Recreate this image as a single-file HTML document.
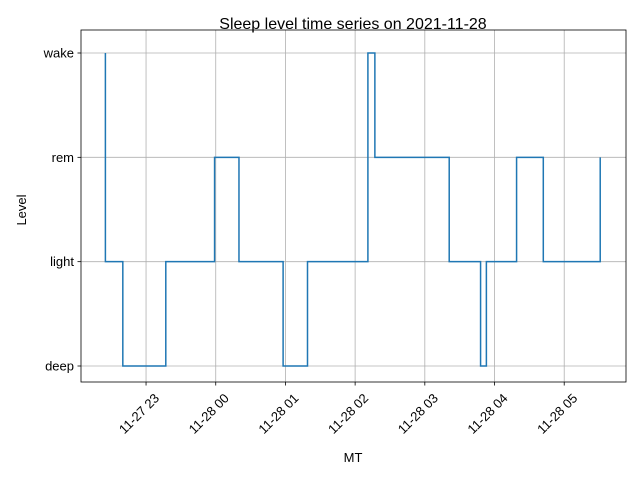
<!DOCTYPE html>
<html><head><meta charset="utf-8"><style>
body{margin:0;background:#fff;}
svg{font-family:"Liberation Sans","DejaVu Sans",sans-serif;}
</style></head><body>
<svg id="chart" width="640" height="480">
<rect width="640" height="480" fill="#fff"/>
<text x="353" y="29" font-size="16" text-anchor="middle">Sleep level time series on 2021-11-28</text>
<g id="grid"></g>
<g id="ticks"></g>
<path id="line" fill="none" stroke="#1f77b4" stroke-width="1.5"/>
<rect x="81" y="30" width="545" height="352" fill="none" stroke="#000" stroke-width="0.8"/>
<text x="353" y="462" font-size="13" text-anchor="middle">MT</text>
<text x="26" y="210" font-size="13" text-anchor="middle" transform="rotate(-90 26 210)">Level</text>
</svg>
<script>
// minutes since 2021-11-27 22:00
const times = [25, 25, 40, 77, 119, 140, 178, 199, 251, 257, 321, 348, 353, 379, 402, 451];
const levels = [3, 1, 0, 1, 2, 1, 0, 1, 3, 2, 1, 0, 1, 2, 1, 2];
const levelLabels = ["deep", "light", "rem", "wake"];
const xTickMinutes = [60, 120, 180, 240, 300, 360, 420];
const xTickLabels = ["11-27 23", "11-28 00", "11-28 01", "11-28 02", "11-28 03", "11-28 04", "11-28 05"];

const X0 = 81, X1 = 626, Y0 = 30, Y1 = 382;
const xMin = 4, xMax = 473.2;
const x = m => X0 + (m - xMin) / (xMax - xMin) * (X1 - X0);
const y = l => 366 - l * (366 - 53) / 3;
const NS = "http://www.w3.org/2000/svg";
const grid = document.getElementById("grid"), ticks = document.getElementById("ticks");
function mk(tag, attrs, parent) { const e = document.createElementNS(NS, tag); for (const k in attrs) e.setAttribute(k, attrs[k]); parent.appendChild(e); return e; }

levelLabels.forEach((lab, i) => {
  const yy = y(i);
  const g = mk("line", {x1: X0, x2: X1, y1: yy, y2: yy, stroke: "#b0b0b0", "stroke-width": 0.8}, grid);
  
  
  mk("line", {x1: X0 - 3.5, x2: X0, y1: yy, y2: yy, stroke: "#000", "stroke-width": 0.8}, ticks);
  const t = mk("text", {x: X0 - 7, y: yy + 4.5, "font-size": 13, "text-anchor": "end"}, ticks);
  t.textContent = lab;
  
  
});
xTickMinutes.forEach((m, i) => {
  const xx = x(m);
  const g = mk("line", {x1: xx, x2: xx, y1: Y0, y2: Y1, stroke: "#b0b0b0", "stroke-width": 0.8}, grid);
  
  
  mk("line", {x1: xx, x2: xx, y1: Y1, y2: Y1 + 3.5, stroke: "#000", "stroke-width": 0.8}, ticks);
  const ax = xx + 14, ay = Y1 + 17;
  const t = mk("text", {x: ax, y: ay, "font-size": 13, "text-anchor": "end", transform: `rotate(-45 ${ax} ${ay})`}, ticks);
  t.textContent = xTickLabels[i];
  
  
});
let d = "";
for (let i = 0; i < times.length; i++) {
  const xx = x(times[i]), yy = y(levels[i]);
  if (i === 0) d += `M${xx},${yy}`;
  else d += `H${xx}V${yy}`;
}
document.getElementById("line").setAttribute("d", d);
</script>
</body></html>
